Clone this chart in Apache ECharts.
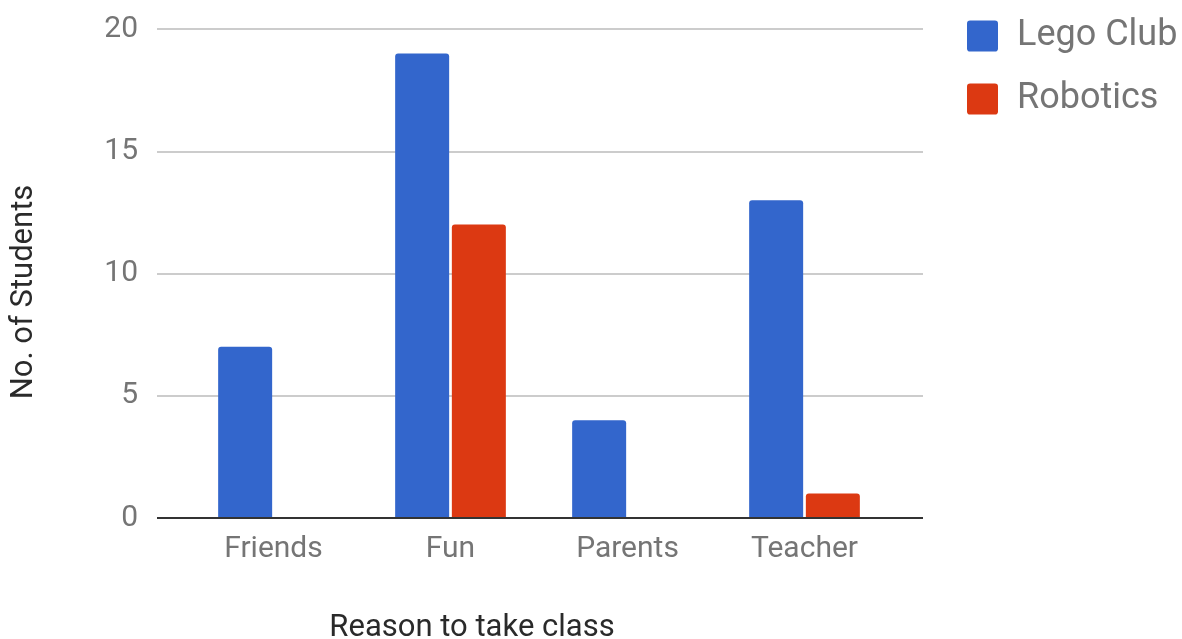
<!DOCTYPE html>
<html>
<head>
<meta charset="utf-8">
<script src="https://cdn.jsdelivr.net/npm/echarts@6/dist/echarts.min.js"></script>
<style>
  html, body { margin: 0; padding: 0; background: #fff; }
  #chart { width: 1182px; height: 639px; }
</style>
</head>
<body>
<div id="chart"></div>
<script>
// data
const reasons = ['Friends', 'Fun', 'Parents', 'Teacher'];
const legoClub = [7, 19, 4, 13];
const robotics = [0, 12, 0, 1];
const yTicks = [0, 5, 10, 15, 20];

const BLUE = '#3366cc';
const RED = '#dc3912';
const FONT = 'Roboto, "Noto Sans", sans-serif';
const chart = echarts.init(document.getElementById('chart'));

const option = {
  animation: false,
  textStyle: { fontFamily: FONT },
  title: [
    {
      text: 'Reason to take class',
      left: 467, top: 608, textAlign: 'center',
      textStyle: { fontFamily: FONT, fontSize: 31, fontWeight: 'normal', color: '#2a2a2a' }
    }
  ],
  graphic: [
    {
      type: 'text',
      x: 24, y: 292, rotation: Math.PI / 2,
      style: {
        text: 'No. of Students',
        font: '31px ' + FONT,
        fill: '#2a2a2a',
        textAlign: 'center',
        textVerticalAlign: 'middle'
      }
    }
  ],
  legend: {
    orient: 'vertical',
    left: 962, top: 13,
    itemWidth: 31, itemHeight: 31,
    itemGap: 27,
    icon: 'path://M1,0 L9,0 Q10,0 10,1 L10,9 Q10,10 9,10 L1,10 Q0,10 0,9 L0,1 Q0,0 1,0 Z',
    textStyle: { fontFamily: FONT, fontSize: 36, color: '#757575', padding: [0, 0, 0, 14] },
    data: ['Lego Club', 'Robotics']
  },
  grid: [
    // full width grid: gridlines, y labels and baseline
    { left: 157, right: 259, top: 29, bottom: 121 },
    // inner grid holding the bars
    { left: 185, right: 289, top: 29, bottom: 121 }
  ],
  xAxis: [
    {
      gridIndex: 0, type: 'value', min: 0, max: 1,
      axisLine: { show: false }, axisTick: { show: false },
      axisLabel: { show: false }, splitLine: { show: false }
    },
    {
      gridIndex: 1, type: 'category', data: reasons,
      axisLine: { show: false },
      axisTick: { show: false },
      axisLabel: { fontFamily: FONT, fontSize: 30, color: '#757575', margin: 16 }
    }
  ],
  yAxis: [
    {
      gridIndex: 0, type: 'value', min: yTicks[0], max: yTicks[yTicks.length - 1], interval: 5,
      axisLine: { show: false }, axisTick: { show: false },
      axisLabel: { fontFamily: FONT, fontSize: 30, color: '#757575', margin: 19 },
      splitLine: {
        lineStyle: { color: '#cccccc', width: 2 },
        interval: function (i, v) { return v !== 0; }
      }
    },
    {
      gridIndex: 1, type: 'value', min: yTicks[0], max: yTicks[yTicks.length - 1], interval: 5,
      axisLine: { show: false }, axisTick: { show: false },
      axisLabel: { show: false }, splitLine: { show: false }
    }
  ],
  series: [
    {
      // baseline at zero spanning the full grid
      type: 'line', xAxisIndex: 0, yAxisIndex: 0,
      data: [[0, 0], [1, 0]],
      symbol: 'none', silent: true,
      lineStyle: { color: '#333333', width: 2 },
      z: 5
    },
    {
      name: 'Lego Club', type: 'bar', xAxisIndex: 1, yAxisIndex: 1,
      data: legoClub, barWidth: 54, barGap: '5%',
      itemStyle: { color: BLUE, borderRadius: [3, 3, 0, 0] }
    },
    {
      name: 'Robotics', type: 'bar', xAxisIndex: 1, yAxisIndex: 1,
      data: robotics, barWidth: 54, barGap: '5%',
      itemStyle: { color: RED, borderRadius: [3, 3, 0, 0] }
    }
  ]
};

chart.setOption(option);
</script>
</body>
</html>
